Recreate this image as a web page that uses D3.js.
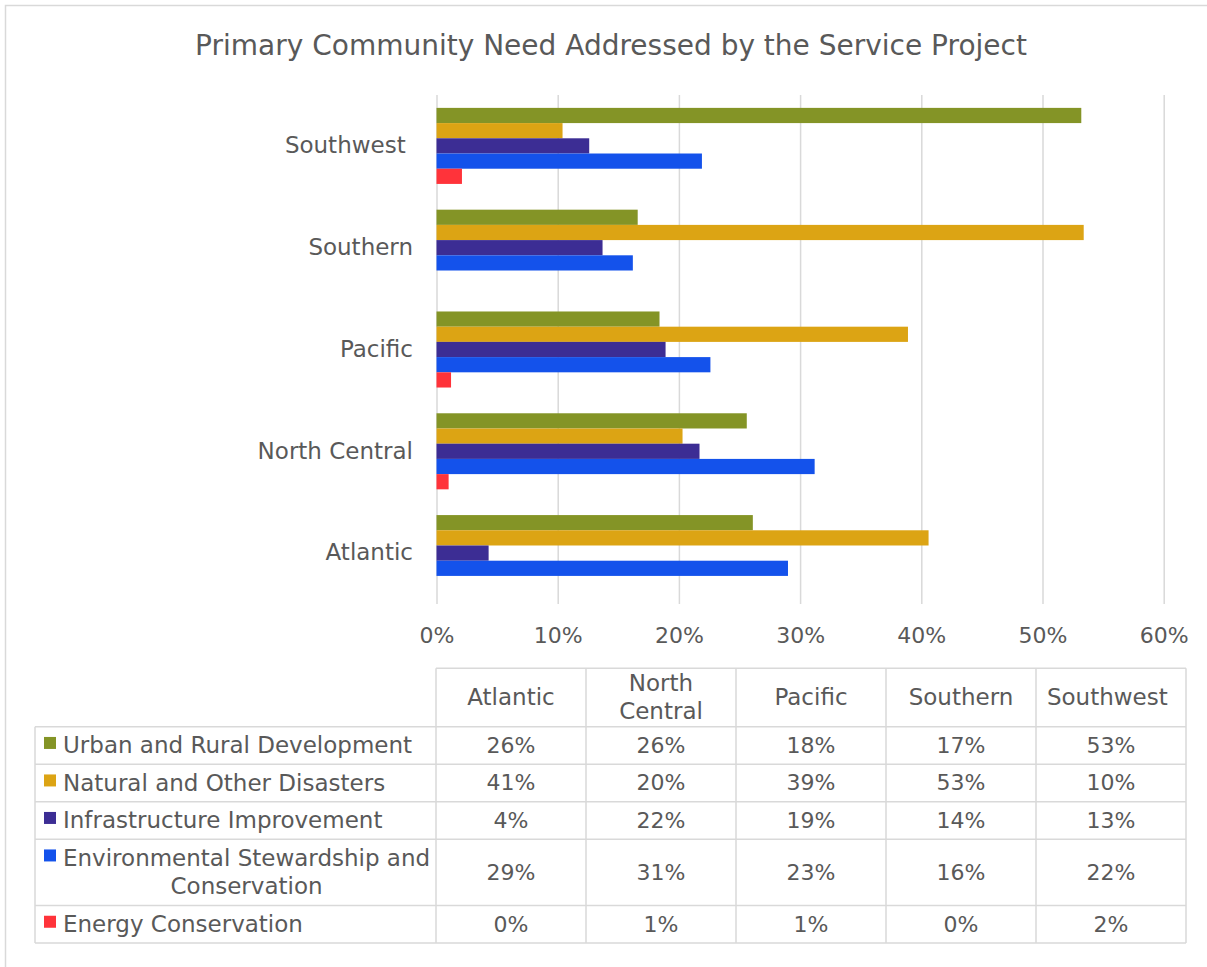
<!DOCTYPE html>
<html>
<head>
<meta charset="utf-8">
<script src="https://cdn.jsdelivr.net/npm/d3@7"></script>
<style>
  html, body { margin: 0; padding: 0; background: #fff; }
  svg { display: block; font-family: "DejaVu Sans", sans-serif; }
  text { fill: #595959; white-space: pre; }
</style>
</head>
<body>
<svg id="chart" width="1207" height="967"></svg>
<script>
// Regions (data table column order) and service-need series
const regions = ["Atlantic", "North Central", "Pacific", "Southern", "Southwest "];
const seriesNames = [
  "Urban and Rural Development",
  "Natural and Other Disasters",
  "Infrastructure Improvement",
  "Environmental Stewardship and Conservation",
  "Energy Conservation"
];
const seriesColors = ["#849426", "#DCA414", "#3C2D94", "#1452EB", "#FF333A"];

// Share of projects (%) per region, one array per series, in region order
const urbanRural    = [26.1, 25.6, 18.4, 16.6, 53.2];
const naturalDisast = [40.6, 20.3, 38.9, 53.4, 10.4];
const infrastruct   = [4.3, 21.7, 18.9, 13.7, 12.6];
const environmental = [29.0, 31.2, 22.6, 16.2, 21.9];
const energyCons    = [0.0, 1.0, 1.2, 0.0, 2.1];
const seriesValues = [urbanRural, naturalDisast, infrastruct, environmental, energyCons];

const xTicks = [0, 10, 20, 30, 40, 50, 60];
const pct = v => Math.round(v) + "%";

const svg = d3.select("#chart");
const grid = "#D9D9D9";

// outer chart frame
svg.append("rect")
  .attr("x", 5.5).attr("y", 5.5)
  .attr("width", 1260).attr("height", 1000)
  .attr("fill", "none").attr("stroke", grid).attr("stroke-width", 1.5);

// title
svg.append("text")
  .attr("x", 611).attr("y", 55)
  .attr("text-anchor", "middle")
  .style("font-size", "28px")
  .text("Primary Community Need Addressed by the Service Project");

// ---- bar plot ----
const plot = { left: 436.5, right: 1163.7, top: 95, bottom: 604 };

const x = d3.scaleLinear().domain([0, 60]).range([plot.left, plot.right]);
const y0 = d3.scaleBand()
  .domain(regions.slice().reverse())
  .range([plot.top, plot.bottom])
  .paddingInner(0.253).paddingOuter(0.1265);
const y1 = d3.scaleBand()
  .domain(d3.range(seriesNames.length))
  .range([0, y0.bandwidth()]);

// vertical gridlines + percent labels
const xAxis = svg.append("g")
  .attr("transform", `translate(0,${plot.bottom})`)
  .call(d3.axisBottom(x)
    .tickValues(xTicks)
    .tickFormat(d => d + "%")
    .tickSize(-(plot.bottom - plot.top))
    .tickPadding(23.5));
xAxis.select(".domain").remove();
xAxis.selectAll(".tick line").attr("stroke", grid).attr("stroke-width", 1.5);
xAxis.selectAll(".tick text")
  .style("font-size", "22px").style("font-family", "DejaVu Sans, sans-serif")
  .attr("fill", "#595959");

// region labels
const yAxis = svg.append("g")
  .attr("transform", `translate(${plot.left},0)`)
  .call(d3.axisLeft(y0).tickSize(0).tickPadding(23.5));
yAxis.select(".domain").remove();
yAxis.selectAll(".tick text")
  .style("font-size", "23px").style("font-family", "DejaVu Sans, sans-serif")
  .attr("fill", "#595959")
  .attr("xml:space", "preserve");

// bars
const groups = svg.append("g").selectAll("g")
  .data(regions)
  .join("g")
  .attr("transform", r => `translate(0,${y0(r)})`);

groups.selectAll("rect")
  .data((r, ri) => seriesValues.map((vals, si) => ({ si, v: vals[ri] })))
  .join("rect")
  .attr("x", x(0))
  .attr("y", d => y1(d.si))
  .attr("height", y1.bandwidth())
  .attr("width", d => x(d.v) - x(0))
  .attr("fill", d => seriesColors[d.si]);

// ---- data table ----
const tbl = { left: 35, keyLeft: 436, right: 1186, top: 668.3, headH: 58.4 };
const col = d3.scaleBand().domain(regions).range([tbl.keyLeft, tbl.right]);
const lineH = 28.8;
const fontSize = 23;

const tg = svg.append("g");

// measure helper for wrapping text to a width
const probe = svg.append("text").style("font-size", fontSize + "px");
function wrapLines(str, maxW) {
  const words = str.trim().split(/\s+/);
  const lines = [];
  let cur = "";
  words.forEach(w => {
    const test = cur ? cur + " " + w : w;
    probe.text(test);
    if (cur && probe.node().getComputedTextLength() > maxW) {
      lines.push(cur);
      cur = w;
    } else cur = test;
  });
  lines.push(cur);
  return lines;
}
function widthOf(str) {
  probe.text(str);
  return probe.node().getComputedTextLength();
}

// row layout
const legendLines = seriesNames.map(s => wrapLines(s, 368));
const rows = [];
let yy = tbl.top + tbl.headH;
legendLines.forEach((ls, i) => {
  const h = 8.7 + lineH * ls.length;
  rows.push({ i, y: yy, h, lines: ls });
  yy += h;
});
const tblBottom = yy;

// header cells
regions.forEach(r => {
  const cx = col(r) + col.bandwidth() / 2;
  const lines = widthOf(r.trim()) > col.bandwidth() - 12 ? wrapLines(r, col.bandwidth() - 12) : [r];
  const cy = tbl.top + tbl.headH / 2;
  lines.forEach((ln, li) => {
    tg.append("text")
      .attr("x", cx)
      .attr("y", cy + (li - (lines.length - 1) / 2) * lineH)
      .attr("dy", "0.33em")
      .attr("text-anchor", "middle")
      .attr("xml:space", "preserve")
      .style("font-size", fontSize + "px")
      .text(ln);
  });
});

// body rows: key swatch, series name, values
rows.forEach(row => {
  const cy = row.y + row.h / 2;
  const firstY = cy - (row.lines.length - 1) / 2 * lineH;
  tg.append("rect")
    .attr("x", 44).attr("y", firstY - 8.5)
    .attr("width", 12).attr("height", 12)
    .attr("fill", seriesColors[row.i]);
  const w1 = widthOf(row.lines[0]);
  row.lines.forEach((ln, li) => {
    tg.append("text")
      .attr("x", li === 0 ? 63 : 63 + w1 / 2)
      .attr("y", firstY + li * lineH)
      .attr("dy", "0.33em")
      .attr("text-anchor", li === 0 ? "start" : "middle")
      .style("font-size", fontSize + "px")
      .text(ln);
  });
  regions.forEach((r, ri) => {
    tg.append("text")
      .attr("x", col(r) + col.bandwidth() / 2)
      .attr("y", cy)
      .attr("dy", "0.33em")
      .attr("text-anchor", "middle")
      .style("font-size", "22px")
      .text(pct(seriesValues[row.i][ri]));
  });
});
probe.remove();

// table grid lines
const lines = tg.append("g").attr("stroke", grid).attr("stroke-width", 1.5).attr("fill", "none");
// horizontal
lines.append("line").attr("x1", tbl.keyLeft).attr("x2", tbl.right).attr("y1", tbl.top).attr("y2", tbl.top);
rows.forEach(row => {
  lines.append("line").attr("x1", tbl.left).attr("x2", tbl.right).attr("y1", row.y).attr("y2", row.y);
});
lines.append("line").attr("x1", tbl.left).attr("x2", tbl.right).attr("y1", tblBottom).attr("y2", tblBottom);
// vertical
lines.append("line").attr("x1", tbl.left).attr("x2", tbl.left).attr("y1", tbl.top + tbl.headH).attr("y2", tblBottom);
regions.forEach(r => {
  lines.append("line").attr("x1", col(r)).attr("x2", col(r)).attr("y1", tbl.top).attr("y2", tblBottom);
});
lines.append("line").attr("x1", tbl.right).attr("x2", tbl.right).attr("y1", tbl.top).attr("y2", tblBottom);
</script>
</body>
</html>
